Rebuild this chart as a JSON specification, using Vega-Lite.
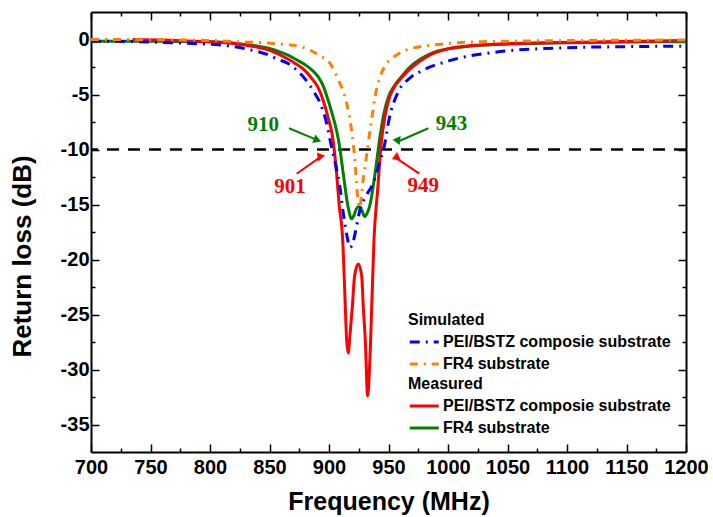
{
  "$schema": "https://vega.github.io/schema/vega-lite/v6.json",
  "width": 595,
  "height": 440,
  "autosize": "none",
  "padding": {"left": 91, "top": 12, "right": 27, "bottom": 65},
  "config": {"view": {"stroke": null}, "font": "Liberation Sans"},
  "datasets": {
    "ref": [{"level": -10}],
    "sim": [
      {"series": "PEI/BSTZ composie substrate", "f": 700, "v": -0.15},
      {"series": "PEI/BSTZ composie substrate", "f": 740, "v": -0.2},
      {"series": "PEI/BSTZ composie substrate", "f": 781, "v": -0.35},
      {"series": "PEI/BSTZ composie substrate", "f": 809, "v": -0.5},
      {"series": "PEI/BSTZ composie substrate", "f": 832, "v": -0.9},
      {"series": "PEI/BSTZ composie substrate", "f": 849, "v": -1.4},
      {"series": "PEI/BSTZ composie substrate", "f": 857, "v": -1.8},
      {"series": "PEI/BSTZ composie substrate", "f": 866, "v": -2.2},
      {"series": "PEI/BSTZ composie substrate", "f": 875, "v": -3.0},
      {"series": "PEI/BSTZ composie substrate", "f": 880, "v": -3.6},
      {"series": "PEI/BSTZ composie substrate", "f": 887, "v": -4.7},
      {"series": "PEI/BSTZ composie substrate", "f": 893, "v": -5.9},
      {"series": "PEI/BSTZ composie substrate", "f": 897, "v": -7.2},
      {"series": "PEI/BSTZ composie substrate", "f": 902, "v": -9.7},
      {"series": "PEI/BSTZ composie substrate", "f": 906, "v": -11.6},
      {"series": "PEI/BSTZ composie substrate", "f": 909, "v": -13.3},
      {"series": "PEI/BSTZ composie substrate", "f": 912, "v": -15.8},
      {"series": "PEI/BSTZ composie substrate", "f": 915, "v": -17.8},
      {"series": "PEI/BSTZ composie substrate", "f": 917.6, "v": -18.9},
      {"series": "PEI/BSTZ composie substrate", "f": 920, "v": -18.5},
      {"series": "PEI/BSTZ composie substrate", "f": 922, "v": -17.6},
      {"series": "PEI/BSTZ composie substrate", "f": 926, "v": -15.5},
      {"series": "PEI/BSTZ composie substrate", "f": 931.7, "v": -14.1},
      {"series": "PEI/BSTZ composie substrate", "f": 937, "v": -13.1},
      {"series": "PEI/BSTZ composie substrate", "f": 941.4, "v": -11.6},
      {"series": "PEI/BSTZ composie substrate", "f": 947, "v": -9.4},
      {"series": "PEI/BSTZ composie substrate", "f": 950.4, "v": -7.3},
      {"series": "PEI/BSTZ composie substrate", "f": 958, "v": -4.8},
      {"series": "PEI/BSTZ composie substrate", "f": 968, "v": -3.5},
      {"series": "PEI/BSTZ composie substrate", "f": 979, "v": -2.8},
      {"series": "PEI/BSTZ composie substrate", "f": 1002, "v": -1.9},
      {"series": "PEI/BSTZ composie substrate", "f": 1044, "v": -1.1},
      {"series": "PEI/BSTZ composie substrate", "f": 1100, "v": -0.75},
      {"series": "PEI/BSTZ composie substrate", "f": 1150, "v": -0.65},
      {"series": "PEI/BSTZ composie substrate", "f": 1200, "v": -0.6},
      {"series": "FR4 substrate", "f": 700, "v": 0.0},
      {"series": "FR4 substrate", "f": 750, "v": -0.02},
      {"series": "FR4 substrate", "f": 800, "v": -0.1},
      {"series": "FR4 substrate", "f": 823, "v": -0.2},
      {"series": "FR4 substrate", "f": 857, "v": -0.4},
      {"series": "FR4 substrate", "f": 876, "v": -0.65},
      {"series": "FR4 substrate", "f": 884, "v": -0.95},
      {"series": "FR4 substrate", "f": 891, "v": -1.4},
      {"series": "FR4 substrate", "f": 901, "v": -2.2},
      {"series": "FR4 substrate", "f": 908, "v": -3.7},
      {"series": "FR4 substrate", "f": 913.4, "v": -5.2},
      {"series": "FR4 substrate", "f": 917.6, "v": -7.3},
      {"series": "FR4 substrate", "f": 920.4, "v": -9.5},
      {"series": "FR4 substrate", "f": 922, "v": -11.3},
      {"series": "FR4 substrate", "f": 923.3, "v": -13.4},
      {"series": "FR4 substrate", "f": 924.6, "v": -14.8},
      {"series": "FR4 substrate", "f": 925.5, "v": -15.3},
      {"series": "FR4 substrate", "f": 927, "v": -14.5},
      {"series": "FR4 substrate", "f": 928.3, "v": -13.1},
      {"series": "FR4 substrate", "f": 930.3, "v": -11.6},
      {"series": "FR4 substrate", "f": 932.5, "v": -9.8},
      {"series": "FR4 substrate", "f": 935.8, "v": -7.3},
      {"series": "FR4 substrate", "f": 938.7, "v": -5.2},
      {"series": "FR4 substrate", "f": 942.9, "v": -3.4},
      {"series": "FR4 substrate", "f": 948.5, "v": -2.2},
      {"series": "FR4 substrate", "f": 957, "v": -1.4},
      {"series": "FR4 substrate", "f": 968, "v": -0.85},
      {"series": "FR4 substrate", "f": 988, "v": -0.5},
      {"series": "FR4 substrate", "f": 1030, "v": -0.2},
      {"series": "FR4 substrate", "f": 1100, "v": -0.1},
      {"series": "FR4 substrate", "f": 1200, "v": -0.05}
    ],
    "meas": [
      {"series": "FR4 substrate", "f": 700, "v": -0.15},
      {"series": "FR4 substrate", "f": 750, "v": -0.15},
      {"series": "FR4 substrate", "f": 800, "v": -0.2},
      {"series": "FR4 substrate", "f": 830, "v": -0.45},
      {"series": "FR4 substrate", "f": 849, "v": -0.8},
      {"series": "FR4 substrate", "f": 858, "v": -1.1},
      {"series": "FR4 substrate", "f": 866, "v": -1.45},
      {"series": "FR4 substrate", "f": 872, "v": -1.8},
      {"series": "FR4 substrate", "f": 880, "v": -2.3},
      {"series": "FR4 substrate", "f": 886, "v": -2.8},
      {"series": "FR4 substrate", "f": 891, "v": -3.4},
      {"series": "FR4 substrate", "f": 895, "v": -4.2},
      {"series": "FR4 substrate", "f": 898, "v": -5.1},
      {"series": "FR4 substrate", "f": 902, "v": -6.5},
      {"series": "FR4 substrate", "f": 906.4, "v": -8.3},
      {"series": "FR4 substrate", "f": 908.7, "v": -9.6},
      {"series": "FR4 substrate", "f": 912, "v": -12.2},
      {"series": "FR4 substrate", "f": 916, "v": -15.2},
      {"series": "FR4 substrate", "f": 919, "v": -16.3},
      {"series": "FR4 substrate", "f": 921, "v": -16.0},
      {"series": "FR4 substrate", "f": 923, "v": -15.4},
      {"series": "FR4 substrate", "f": 925, "v": -15.2},
      {"series": "FR4 substrate", "f": 927.5, "v": -15.5},
      {"series": "FR4 substrate", "f": 930, "v": -16.1},
      {"series": "FR4 substrate", "f": 932, "v": -15.8},
      {"series": "FR4 substrate", "f": 934.5, "v": -15.0},
      {"series": "FR4 substrate", "f": 938.7, "v": -12.2},
      {"series": "FR4 substrate", "f": 942.9, "v": -8.8},
      {"series": "FR4 substrate", "f": 946, "v": -6.8},
      {"series": "FR4 substrate", "f": 950, "v": -5.2},
      {"series": "FR4 substrate", "f": 955, "v": -4.2},
      {"series": "FR4 substrate", "f": 960, "v": -3.5},
      {"series": "FR4 substrate", "f": 968, "v": -2.5},
      {"series": "FR4 substrate", "f": 976.5, "v": -1.8},
      {"series": "FR4 substrate", "f": 985, "v": -1.3},
      {"series": "FR4 substrate", "f": 1000, "v": -0.85},
      {"series": "FR4 substrate", "f": 1040, "v": -0.45},
      {"series": "FR4 substrate", "f": 1080, "v": -0.35},
      {"series": "FR4 substrate", "f": 1130, "v": -0.25},
      {"series": "FR4 substrate", "f": 1200, "v": -0.2},
      {"series": "PEI/BSTZ composie substrate", "f": 735, "v": 0.0},
      {"series": "PEI/BSTZ composie substrate", "f": 760, "v": -0.05},
      {"series": "PEI/BSTZ composie substrate", "f": 780, "v": -0.13},
      {"series": "PEI/BSTZ composie substrate", "f": 800, "v": -0.2},
      {"series": "PEI/BSTZ composie substrate", "f": 823, "v": -0.4},
      {"series": "PEI/BSTZ composie substrate", "f": 840, "v": -0.7},
      {"series": "PEI/BSTZ composie substrate", "f": 849, "v": -0.95},
      {"series": "PEI/BSTZ composie substrate", "f": 858, "v": -1.35},
      {"series": "PEI/BSTZ composie substrate", "f": 865, "v": -1.75},
      {"series": "PEI/BSTZ composie substrate", "f": 872, "v": -2.2},
      {"series": "PEI/BSTZ composie substrate", "f": 880, "v": -2.85},
      {"series": "PEI/BSTZ composie substrate", "f": 886, "v": -3.6},
      {"series": "PEI/BSTZ composie substrate", "f": 891, "v": -4.4},
      {"series": "PEI/BSTZ composie substrate", "f": 895, "v": -5.5},
      {"series": "PEI/BSTZ composie substrate", "f": 899, "v": -7.0},
      {"series": "PEI/BSTZ composie substrate", "f": 903.5, "v": -9.2},
      {"series": "PEI/BSTZ composie substrate", "f": 906.4, "v": -12.2},
      {"series": "PEI/BSTZ composie substrate", "f": 908.5, "v": -15.0},
      {"series": "PEI/BSTZ composie substrate", "f": 911.5, "v": -18.2},
      {"series": "PEI/BSTZ composie substrate", "f": 913.7, "v": -24.3},
      {"series": "PEI/BSTZ composie substrate", "f": 914.8, "v": -27.3},
      {"series": "PEI/BSTZ composie substrate", "f": 916.2, "v": -28.5},
      {"series": "PEI/BSTZ composie substrate", "f": 917.3, "v": -27.3},
      {"series": "PEI/BSTZ composie substrate", "f": 919.6, "v": -24.3},
      {"series": "PEI/BSTZ composie substrate", "f": 921.5, "v": -21.5},
      {"series": "PEI/BSTZ composie substrate", "f": 924.6, "v": -20.4},
      {"series": "PEI/BSTZ composie substrate", "f": 927.5, "v": -21.5},
      {"series": "PEI/BSTZ composie substrate", "f": 928.8, "v": -24.3},
      {"series": "PEI/BSTZ composie substrate", "f": 930.5, "v": -27.3},
      {"series": "PEI/BSTZ composie substrate", "f": 932.5, "v": -32.4},
      {"series": "PEI/BSTZ composie substrate", "f": 934, "v": -30.0},
      {"series": "PEI/BSTZ composie substrate", "f": 935, "v": -27.3},
      {"series": "PEI/BSTZ composie substrate", "f": 937.8, "v": -18.2},
      {"series": "PEI/BSTZ composie substrate", "f": 941, "v": -13.5},
      {"series": "PEI/BSTZ composie substrate", "f": 944, "v": -9.3},
      {"series": "PEI/BSTZ composie substrate", "f": 947, "v": -7.0},
      {"series": "PEI/BSTZ composie substrate", "f": 951, "v": -5.2},
      {"series": "PEI/BSTZ composie substrate", "f": 955, "v": -4.3},
      {"series": "PEI/BSTZ composie substrate", "f": 960, "v": -3.6},
      {"series": "PEI/BSTZ composie substrate", "f": 968, "v": -2.7},
      {"series": "PEI/BSTZ composie substrate", "f": 976, "v": -2.0},
      {"series": "PEI/BSTZ composie substrate", "f": 985, "v": -1.4},
      {"series": "PEI/BSTZ composie substrate", "f": 1000, "v": -0.85},
      {"series": "PEI/BSTZ composie substrate", "f": 1020, "v": -0.55},
      {"series": "PEI/BSTZ composie substrate", "f": 1044, "v": -0.4},
      {"series": "PEI/BSTZ composie substrate", "f": 1080, "v": -0.3},
      {"series": "PEI/BSTZ composie substrate", "f": 1128, "v": -0.22},
      {"series": "PEI/BSTZ composie substrate", "f": 1160, "v": -0.15},
      {"series": "PEI/BSTZ composie substrate", "f": 1198, "v": -0.1}
    ],
    "ann": [
      {"label": "910", "f0": 866.4, "v0": -8.07, "f1": 890.3, "v1": -9.15, "ft": 844.8, "vt": -7.8},
      {"label": "943", "f0": 983.5, "v0": -8.07, "f1": 958.1, "v1": -9.27, "ft": 1003, "vt": -7.7},
      {"label": "901", "f0": 872.8, "v0": -12.2, "f1": 892.1, "v1": -10.74, "ft": 867.2, "vt": -13.4},
      {"label": "949", "f0": 975.9, "v0": -12.2, "f1": 955.8, "v1": -10.74, "ft": 979.3, "vt": -13.3}
    ]
  },
  "resolve": {
    "scale": {"color": "independent", "strokeDash": "independent", "angle": "independent"},
    "axis": {"x": "independent", "y": "independent"}
  },
  "layer": [
    {
      "data": {"name": "ref"},
      "mark": {"type": "rule", "color": "black", "strokeDash": [12, 9], "strokeWidth": 2.5},
      "encoding": {
        "y": {"field": "level", "type": "quantitative", "scale": {"domain": [-37.5, 2.5], "nice": false, "zero": false}, "axis": null}
      }
    },
    {
      "data": {"name": "meas"},
      "mark": {"type": "line", "strokeWidth": 3, "interpolate": "monotone", "clip": true},
      "encoding": {
        "x": {
          "field": "f", "type": "quantitative",
          "scale": {"domain": [700, 1200], "nice": false, "zero": false},
          "axis": {
            "orient": "top", "values": [700,725,750,775,800,825,850,875,900,925,950,975,1000,1025,1050,1075,1100,1125,1150,1175,1200],
            "labels": false, "title": null, "grid": false,
            "domainColor": "black", "domainWidth": 2, "tickColor": "black", "tickWidth": 1.5,
            "tickSize": {"condition": {"test": "datum.value % 50 === 0", "value": -8}, "value": -4}
          }
        },
        "y": {
          "field": "v", "type": "quantitative",
          "scale": {"domain": [-37.5, 2.5], "nice": false, "zero": false},
          "axis": {
            "orient": "right", "values": [-35,-32.5,-30,-27.5,-25,-22.5,-20,-17.5,-15,-12.5,-10,-7.5,-5,-2.5,0],
            "labels": false, "title": null, "grid": false,
            "domainColor": "black", "domainWidth": 2, "tickColor": "black", "tickWidth": 1.5,
            "tickSize": {"condition": {"test": "datum.value % 5 === 0", "value": -8}, "value": -4}
          }
        },
        "color": {
          "field": "series", "type": "nominal",
          "scale": {"domain": ["PEI/BSTZ composie substrate", "FR4 substrate"], "range": ["#ff0000", "#008000"]},
          "legend": {
            "title": "Measured", "orient": "none", "legendX": 317, "legendY": 364,
            "symbolType": "M-1,0H3", "symbolSize": 210, "symbolStrokeWidth": 3,
            "labelOffset": 17, "rowPadding": 5, "padding": 0, "titlePadding": 5, "labelLimit": 0,
            "titleFont": "Liberation Sans", "titleFontSize": 16, "titleFontWeight": "bold", "titleColor": "black",
            "labelFont": "Liberation Sans", "labelFontSize": 16, "labelFontWeight": "bold", "labelColor": "black"
          }
        },
        "order": {"field": "series", "sort": "ascending"}
      }
    },
    {
      "data": {"name": "sim"},
      "mark": {"type": "line", "strokeWidth": 3, "interpolate": "monotone", "clip": true},
      "encoding": {
        "x": {
          "field": "f", "type": "quantitative",
          "scale": {"domain": [700, 1200], "nice": false, "zero": false},
          "axis": {
            "orient": "bottom", "values": [700,725,750,775,800,825,850,875,900,925,950,975,1000,1025,1050,1075,1100,1125,1150,1175,1200],
            "labelExpr": "datum.value % 50 === 0 ? '' + datum.value : ''",
            "title": "Frequency (MHz)", "grid": false,
            "domainColor": "black", "domainWidth": 2, "tickColor": "black", "tickWidth": 1.5,
            "tickSize": {"condition": {"test": "datum.value % 50 === 0", "value": -8}, "value": -4},
            "labelFont": "Liberation Sans", "labelFontSize": 20, "labelFontWeight": "bold", "labelColor": "black",
            "labelPadding": 13, "labelFlush": false,
            "titleFont": "Liberation Sans", "titleFontSize": 25, "titleFontWeight": "bold", "titleColor": "black",
            "titlePadding": 12
          }
        },
        "y": {
          "field": "v", "type": "quantitative",
          "scale": {"domain": [-37.5, 2.5], "nice": false, "zero": false},
          "axis": {
            "orient": "left", "values": [-35,-32.5,-30,-27.5,-25,-22.5,-20,-17.5,-15,-12.5,-10,-7.5,-5,-2.5,0],
            "labelExpr": "datum.value % 5 === 0 ? '' + datum.value : ''",
            "title": "Return  loss (dB)", "grid": false,
            "domainColor": "black", "domainWidth": 2, "tickColor": "black", "tickWidth": 1.5,
            "tickSize": {"condition": {"test": "datum.value % 5 === 0", "value": -8}, "value": -4},
            "labelFont": "Liberation Sans", "labelFontSize": 20, "labelFontWeight": "bold", "labelColor": "black",
            "labelPadding": 10,
            "titleFont": "Liberation Sans", "titleFontSize": 26, "titleFontWeight": "bold", "titleColor": "black",
            "titlePadding": 25, "titleY": 244
          }
        },
        "color": {
          "field": "series", "type": "nominal",
          "scale": {"domain": ["PEI/BSTZ composie substrate", "FR4 substrate"], "range": ["#0000ff", "#ff8000"]},
          "legend": {
            "title": "Simulated", "orient": "none", "legendX": 317, "legendY": 300,
            "symbolType": "M-1,0H3", "symbolSize": 210, "symbolStrokeWidth": 3,
            "labelOffset": 17, "rowPadding": 5, "padding": 0, "titlePadding": 5, "labelLimit": 0,
            "titleFont": "Liberation Sans", "titleFontSize": 16, "titleFontWeight": "bold", "titleColor": "black",
            "labelFont": "Liberation Sans", "labelFontSize": 16, "labelFontWeight": "bold", "labelColor": "black"
          }
        },
        "strokeDash": {
          "field": "series", "type": "nominal",
          "scale": {"domain": ["PEI/BSTZ composie substrate", "FR4 substrate"], "range": [[10, 6, 2, 6], [8, 6, 2, 6]]},
          "legend": {
            "title": "Simulated", "orient": "none", "legendX": 317, "legendY": 300,
            "symbolType": "M-1,0H3", "symbolSize": 210, "symbolStrokeWidth": 3,
            "labelOffset": 17, "rowPadding": 5, "padding": 0, "titlePadding": 5, "labelLimit": 0,
            "titleFont": "Liberation Sans", "titleFontSize": 16, "titleFontWeight": "bold", "titleColor": "black",
            "labelFont": "Liberation Sans", "labelFontSize": 16, "labelFontWeight": "bold", "labelColor": "black"
          }
        }
      }
    },
    {
      "data": {"name": "ann"},
      "mark": {"type": "rule", "strokeWidth": 2},
      "encoding": {
        "x": {"field": "f0", "type": "quantitative", "axis": null},
        "y": {"field": "v0", "type": "quantitative", "axis": null},
        "x2": {"field": "f1"},
        "y2": {"field": "v1"},
        "color": {"field": "label", "type": "nominal", "scale": {"domain": ["910", "943", "901", "949"], "range": ["#008000", "#008000", "#ff0000", "#ff0000"]}, "legend": null}
      }
    },
    {
      "data": {"name": "ann"},
      "mark": {"type": "point", "shape": "triangle-up", "filled": true, "size": 80, "opacity": 1},
      "encoding": {
        "x": {"field": "f1", "type": "quantitative", "axis": null},
        "y": {"field": "v1", "type": "quantitative", "axis": null},
        "angle": {"field": "label", "type": "nominal", "scale": {"domain": ["910", "943", "901", "949"], "range": [111, 246, 54, 305]}, "legend": null},
        "color": {"field": "label", "type": "nominal", "scale": {"domain": ["910", "943", "901", "949"], "range": ["#008000", "#008000", "#ff0000", "#ff0000"]}, "legend": null}
      }
    },
    {
      "data": {"name": "ann"},
      "mark": {"type": "text", "font": "Liberation Serif", "fontWeight": "bold", "fontSize": 21, "align": "center", "baseline": "middle"},
      "encoding": {
        "x": {"field": "ft", "type": "quantitative", "axis": null},
        "y": {"field": "vt", "type": "quantitative", "axis": null},
        "text": {"field": "label"},
        "color": {"field": "label", "type": "nominal", "scale": {"domain": ["910", "943", "901", "949"], "range": ["#008000", "#008000", "#ff0000", "#ff0000"]}, "legend": null}
      }
    }
  ]
}
